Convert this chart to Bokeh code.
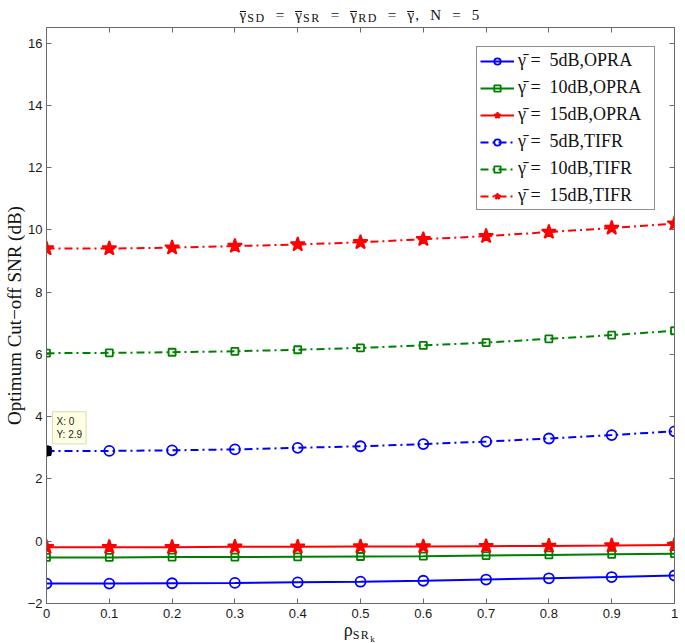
from bokeh.plotting import figure
from bokeh.layouts import column
from bokeh.models import (Range1d, FixedTicker, LinearAxis, Label, Legend, Div,
                          CustomLabelingPolicy)
from bokeh.embed import file_html
from bokeh.resources import INLINE

# ---------------- data ----------------
rho = [0.0, 0.1, 0.2, 0.3, 0.4, 0.5, 0.6, 0.7, 0.8, 0.9, 1.0]

opra_5 = [-1.36, -1.36, -1.35, -1.34, -1.32, -1.30, -1.27, -1.23, -1.19, -1.15, -1.10]
opra_10 = [-0.52, -0.52, -0.51, -0.51, -0.50, -0.49, -0.48, -0.46, -0.44, -0.42, -0.40]
opra_15 = [-0.19, -0.19, -0.19, -0.18, -0.18, -0.17, -0.17, -0.16, -0.15, -0.14, -0.12]
tifr_5 = [2.90, 2.90, 2.92, 2.95, 3.00, 3.05, 3.12, 3.20, 3.30, 3.41, 3.53]
tifr_10 = [6.04, 6.05, 6.07, 6.10, 6.15, 6.21, 6.29, 6.38, 6.50, 6.62, 6.76]
tifr_15 = [9.40, 9.40, 9.43, 9.48, 9.53, 9.60, 9.70, 9.80, 9.93, 10.06, 10.20]

NB = "\u00a0"
series_labels = [f"γ̄ ={NB} 5dB,OPRA", f"γ̄ ={NB} 10dB,OPRA", f"γ̄ ={NB} 15dB,OPRA",
                 f"γ̄ ={NB} 5dB,TIFR", f"γ̄ ={NB} 10dB,TIFR", f"γ̄ ={NB} 15dB,TIFR"]

x_ticks = [0, 0.1, 0.2, 0.3, 0.4, 0.5, 0.6, 0.7, 0.8, 0.9, 1]
y_ticks = [-2, 0, 2, 4, 6, 8, 10, 12, 14, 16]

tip_x = 0
tip_y = 2.9

y_label = "Optimum Cut−off SNR (dB)"

# ---------------- figure ----------------
SERIF = "Liberation Serif"
SANS = "Liberation Sans"
AX = "#6a6a6a"

p = figure(width=678, height=600, output_backend="svg", toolbar_location=None,
           x_range=Range1d(0, 1), y_range=Range1d(-2, 16.5),
           min_border_left=43, min_border_right=1, min_border_top=0,
           min_border_bottom=20, background_fill_color="white",
           border_fill_color="white")
p.xgrid.visible = False
p.ygrid.visible = False
p.outline_line_color = AX

for ax in (p.xaxis[0], p.yaxis[0]):
    ax.axis_line_color = AX
    ax.major_tick_line_color = AX
    ax.major_tick_in = 5
    ax.major_tick_out = 0
    ax.minor_tick_line_color = None
    ax.major_label_text_font = SANS
    ax.major_label_text_font_size = "13px"
    ax.major_label_text_color = "#1a1a1a"

p.xaxis.ticker = FixedTicker(ticks=x_ticks)
p.xaxis.major_label_overrides = {0: "0", 1: "1"}
p.xaxis.major_label_standoff = 5
p.yaxis.ticker = FixedTicker(ticks=y_ticks)
p.yaxis.major_label_overrides = {-2: "−2"}
p.yaxis.major_label_standoff = 4
p.yaxis.axis_label = y_label
p.yaxis.axis_label_standoff = 0
p.yaxis.axis_label_text_font = SERIF
p.yaxis.axis_label_text_font_style = "normal"
p.yaxis.axis_label_text_font_size = "19px"
p.yaxis.axis_label_text_color = "#111111"

# mirrored axes (box with inner ticks, no labels)
hide_all = CustomLabelingPolicy(code="for (const i of indices) indices.unset(i); return indices")
top = LinearAxis(ticker=FixedTicker(ticks=x_ticks))
right = LinearAxis(ticker=FixedTicker(ticks=y_ticks))
for ax in (top, right):
    ax.axis_line_color = AX
    ax.major_tick_line_color = AX
    ax.major_tick_in = 5
    ax.major_tick_out = 0
    ax.minor_tick_line_color = None
    ax.major_label_text_font_size = "1px"
    ax.major_label_standoff = 0
    ax.major_label_policy = hide_all
p.add_layout(top, "above")
p.add_layout(right, "right")

# ---------------- series ----------------
items = []
specs = [
    (opra_5, "#0000ff", "solid", "circle", 10, False),
    (opra_10, "#008000", "solid", "square", 7, False),
    (opra_15, "#ff0000", "solid", "star", 15, True),
    (tifr_5, "#0000ff", "8 4 2 4", "circle", 10, False),
    (tifr_10, "#008000", "8 4 2 4", "square", 7, False),
    (tifr_15, "#ff0000", "8 4 2 4", "star", 15, True),
]
for (ys, col, dash, mk, sz, filled), lab in zip(specs, series_labels):
    r1 = p.line(rho, ys, line_color=col, line_width=2, line_dash=dash)
    r2 = p.scatter(rho, ys, marker=mk, size=sz, line_color=col, line_width=1.8,
                   fill_color=col if filled else None)
    items.append((lab, [r1, r2]))

legend = Legend(items=items, location=(430, 393))
legend.label_text_font = SERIF
legend.label_text_font_size = "18px"
legend.label_text_color = "#111111"
legend.border_line_color = "#222222"
legend.border_line_width = 1
legend.background_fill_color = "white"
legend.background_fill_alpha = 1
legend.padding = 3
legend.margin = 0
legend.spacing = 6
legend.glyph_height = 16
legend.label_height = 16
legend.glyph_width = 34
legend.label_standoff = 4
legend.label_width = 133
p.add_layout(legend, "center")

# data tip
p.scatter([tip_x], [tip_y], marker="square", size=9, fill_color="black",
          line_color="black")
tip = Label(x=tip_x, y=tip_y, x_offset=6, y_offset=7,
            text=f"X: {tip_x}\nY: {tip_y}",
            text_font=SANS, text_font_size="10px", text_color="#222222",
            text_baseline="bottom", text_align="left",
            background_fill_color="#ffffe1", border_line_color="#d8d8c0",
            padding=4)
p.add_layout(tip)

# ---------------- title and x label (HTML with subscripts) ----------------
SUB = "font-size:12px;vertical-align:-2px;letter-spacing:1.5px"
G = ("<span style='display:inline-block;position:relative;line-height:15px'>γ"
     "<span style='position:absolute;left:0px;right:1px;top:3px;"
     "border-top:1px solid #111'></span></span>")
title_html = (
    f"<span style=\"font-family:'{SERIF}';font-size:15px;color:#111;"
    "letter-spacing:1.2px;word-spacing:5px;white-space:nowrap\">"
    f"{G}<span style='{SUB}'>SD</span> = {G}<span style='{SUB}'>SR</span> = "
    f"{G}<span style='{SUB}'>RD</span> = {G}, N = 5</span>"
)
xlabel_html = (
    f"<span style=\"font-family:'{SERIF}';font-size:18px;color:#111;white-space:nowrap\">"
    f"ρ<span style='font-size:12px;vertical-align:-3px;letter-spacing:1.5px'>SR"
    f"<span style='font-size:9px;vertical-align:-3px'>k</span></span></span>"
)
title_div = Div(text=title_html, width=634, height=23, margin=(0, 0, 0, 43),
                styles={"text-align": "center", "line-height": "30px"})
xlabel_div = Div(text=xlabel_html, width=634, height=20, margin=(0, 0, 0, 43),
                 styles={"text-align": "center", "line-height": "14px"})

layout = column(title_div, p, xlabel_div, spacing=0)

open("out.html", "w").write(file_html(layout, INLINE))
